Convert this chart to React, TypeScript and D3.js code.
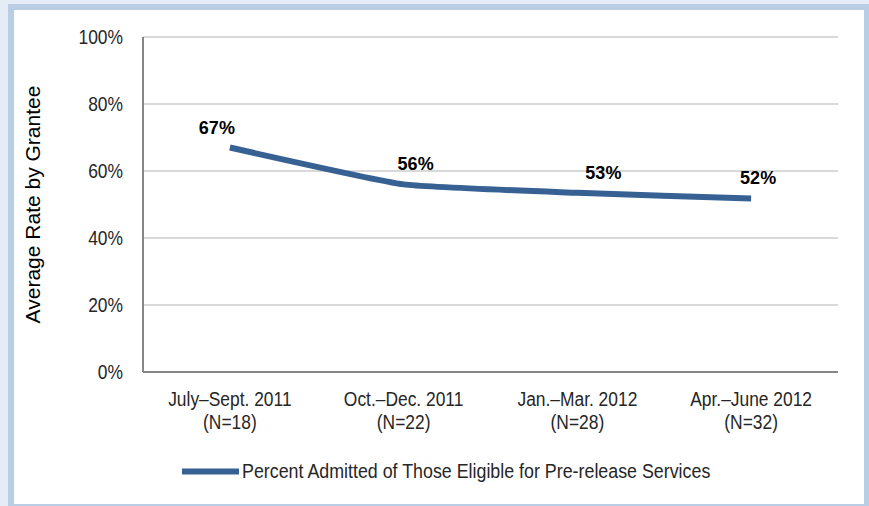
import React from "react";
import * as d3 from "d3";

const categories = ["July–Sept. 2011", "Oct.–Dec. 2011", "Jan.–Mar. 2012", "Apr.–June 2012"];
const sampleSizes = ["(N=18)", "(N=22)", "(N=28)", "(N=32)"];
const admittedPct = [0.67, 0.56, 0.535, 0.518];
const valueLabels = ["67%", "56%", "53%", "52%"];
const yTicks = [0, 0.2, 0.4, 0.6, 0.8, 1.0];
const seriesName = "Percent Admitted of Those Eligible for Pre-release Services";
const yTitle = "Average Rate by Grantee";

const W = 869;
const H = 506;
const M = { left: 143, right: 31, top: 37, bottom: 134 };
const sans = "'Liberation Sans', Arial, sans-serif";
const NARROW = 0.87;
const labelDx = [-13, 12, 26, 7];

function NarrowText(props: {
  x: number;
  y: number;
  anchor?: "start" | "middle" | "end";
  size?: number;
  children: React.ReactNode;
}) {
  const { x, y, anchor = "start", size = 20, children } = props;
  return (
    <text
      transform={`translate(${x},${y}) scale(${NARROW},1)`}
      textAnchor={anchor}
      fontFamily={sans}
      fontSize={size}
      fill="#262626"
    >
      {children}
    </text>
  );
}

export default function App() {
  const x = d3
    .scaleBand<string>()
    .domain(categories)
    .range([M.left, W - M.right])
    .padding(0);
  const y = d3.scaleLinear().domain([0, 1]).range([H - M.bottom, M.top]);
  const cx = (i: number) => (x(categories[i]) as number) + x.bandwidth() / 2;

  const line = d3
    .line<number>()
    .x((_, i) => cx(i))
    .y((d) => y(d))
    .curve(d3.curveCardinal.tension(0.6));

  const fmt = d3.format(".0%");

  return (
    <svg
      width={W}
      height={H}
      style={{ position: "absolute", left: 0, top: 0, display: "block" }}
    >
      <rect x={0} y={0} width={W} height={H} fill="#e5ecf5" />
      <rect x={11} y={7} width={856} height={500} fill="#ffffff" stroke="#b9cde5" strokeWidth={6} />
      {yTicks.map((t) =>
        t > 0 ? (
          <line
            key={"g" + t}
            x1={M.left}
            x2={W - M.right}
            y1={y(t)}
            y2={y(t)}
            stroke="#d9d9d9"
            strokeWidth={2}
          />
        ) : null
      )}
      <line x1={M.left} x2={M.left} y1={M.top} y2={y(0)} stroke="#868686" strokeWidth={2} />
      <line x1={M.left} x2={W - M.right} y1={y(0)} y2={y(0)} stroke="#868686" strokeWidth={2} />
      {yTicks.map((t) => (
        <NarrowText key={"t" + t} x={M.left - 20} y={y(t) + 7} anchor="end">
          {fmt(t)}
        </NarrowText>
      ))}
      {categories.map((c, i) => (
        <g key={c}>
          <NarrowText x={cx(i)} y={y(0) + 34} anchor="middle">
            {c}
          </NarrowText>
          <NarrowText x={cx(i)} y={y(0) + 57} anchor="middle">
            {sampleSizes[i]}
          </NarrowText>
        </g>
      ))}
      <text
        transform={`translate(40, ${(M.top + y(0)) / 2}) rotate(-90)`}
        textAnchor="middle"
        fontFamily={sans}
        fontSize={21}
        fill="#000"
      >
        {yTitle}
      </text>
      <path
        d={line(admittedPct) || ""}
        fill="none"
        stroke="#386193"
        strokeWidth={6}
        strokeLinejoin="round"
      />
      {admittedPct.map((v, i) => (
        <text
          key={"v" + i}
          x={cx(i) + labelDx[i]}
          y={y(v) - 14}
          textAnchor="middle"
          fontFamily={sans}
          fontWeight="bold"
          fontSize={18}
          fill="#000"
        >
          {valueLabels[i]}
        </text>
      ))}
      <line x1={182} x2={239} y1={471.5} y2={471.5} stroke="#386193" strokeWidth={6} />
      <NarrowText x={242} y={478} size={20.5}>
        {seriesName}
      </NarrowText>
    </svg>
  );
}
